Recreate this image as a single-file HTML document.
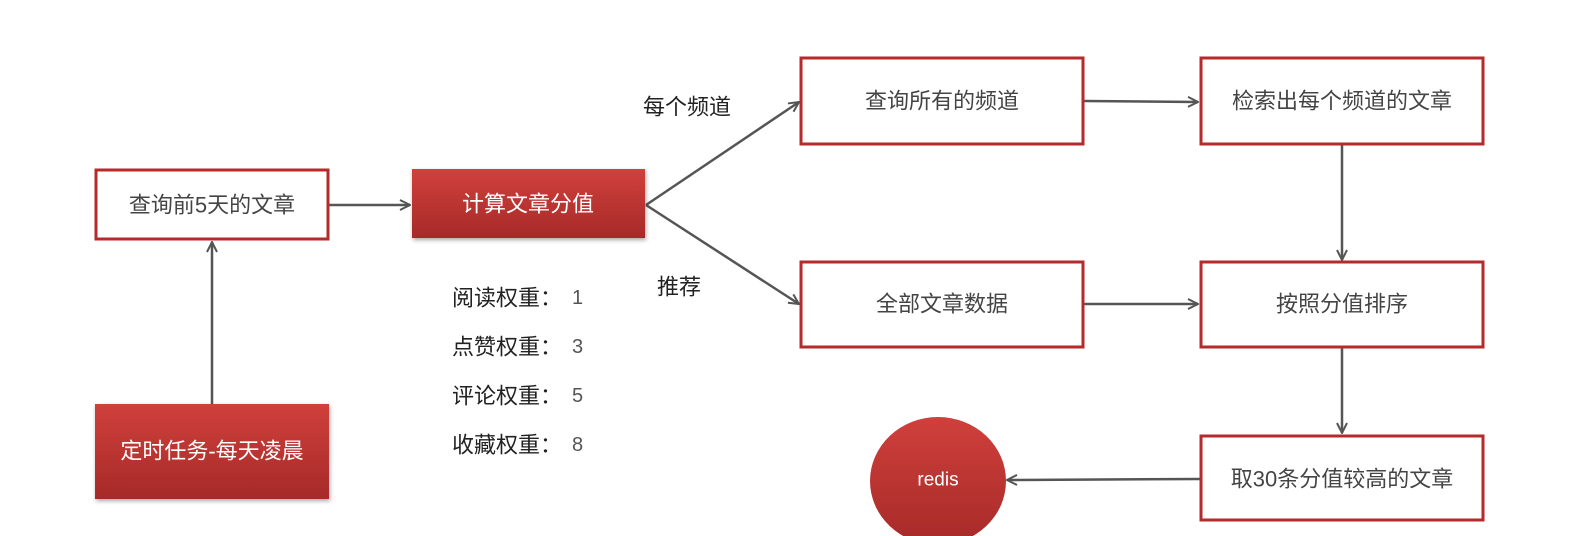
<!DOCTYPE html>
<html><head><meta charset="utf-8"><style>
body{margin:0;background:#fff}
svg{display:block}
text{font-family:"Liberation Sans","Noto Sans CJK SC",sans-serif}
</style></head><body>
<svg width="1582" height="536" viewBox="0 0 1582 536" xmlns="http://www.w3.org/2000/svg">
<defs>
<linearGradient id="rg" x1="0" y1="0" x2="0" y2="1"><stop offset="0" stop-color="#d0403c"/><stop offset="1" stop-color="#a62a28"/></linearGradient>
<marker id="ar" viewBox="0 0 12 12" refX="11" refY="6" markerWidth="12" markerHeight="12" markerUnits="userSpaceOnUse" orient="auto"><path d="M1,1 L11,6 L1,11" fill="none" stroke="#555" stroke-width="2"/></marker>
</defs>
<g stroke="#555" stroke-width="2.5" fill="none" marker-end="url(#ar)">
<line x1="329" y1="205" x2="410" y2="205"/>
<line x1="646" y1="205" x2="799" y2="102"/>
<line x1="646" y1="205" x2="799" y2="304"/>
<line x1="1084" y1="101" x2="1198" y2="102"/>
<line x1="1342" y1="145" x2="1342" y2="260"/>
<line x1="1084" y1="304" x2="1198" y2="304"/>
<line x1="1342" y1="348" x2="1342" y2="433"/>
<line x1="1200" y1="479" x2="1007" y2="480"/>
<line x1="212" y1="404" x2="212" y2="242"/>
</g>
<g fill="#fff" stroke="#b52a2a" stroke-width="3">
<rect x="96" y="170" width="232" height="69"/>
<rect x="801" y="58" width="282" height="86"/>
<rect x="1201" y="58" width="282" height="86"/>
<rect x="801" y="262" width="282" height="85"/>
<rect x="1201" y="262" width="282" height="85"/>
<rect x="1201" y="436" width="282" height="84"/>
</g>
<rect x="412" y="169" width="233" height="69" fill="url(#rg)" style="filter:drop-shadow(1px 2px 2px rgba(0,0,0,.35))"/>
<rect x="95" y="404" width="234" height="95" fill="url(#rg)" style="filter:drop-shadow(1px 2px 2px rgba(0,0,0,.35))"/>
<ellipse cx="938" cy="481" rx="68" ry="64" fill="url(#rg)"/>
<g font-size="22" fill="#444" text-anchor="middle" dominant-baseline="central">
<text x="212" y="205">查询前5天的文章</text>
<text x="942" y="101">查询所有的频道</text>
<text x="1342" y="101">检索出每个频道的文章</text>
<text x="942" y="304">全部文章数据</text>
<text x="1342" y="304">按照分值排序</text>
<text x="1342" y="479">取30条分值较高的文章</text>
</g>
<g font-size="22" fill="#fff" text-anchor="middle" dominant-baseline="central">
<text x="528" y="204">计算文章分值</text>
<text x="212" y="451">定时任务-每天凌晨</text>
<text x="938" y="480" font-size="19">redis</text>
</g>
<g font-size="22" fill="#222" dominant-baseline="central">
<text x="643" y="107">每个频道</text>
<text x="657" y="287">推荐</text>
<text x="452" y="298">阅读权重：</text>
<text x="452" y="347">点赞权重：</text>
<text x="452" y="396">评论权重：</text>
<text x="452" y="445">收藏权重：</text>
</g>
<g font-size="20" fill="#555" dominant-baseline="central">
<text x="572" y="298">1</text>
<text x="572" y="347">3</text>
<text x="572" y="396">5</text>
<text x="572" y="445">8</text>
</g>
</svg>
</body></html>
